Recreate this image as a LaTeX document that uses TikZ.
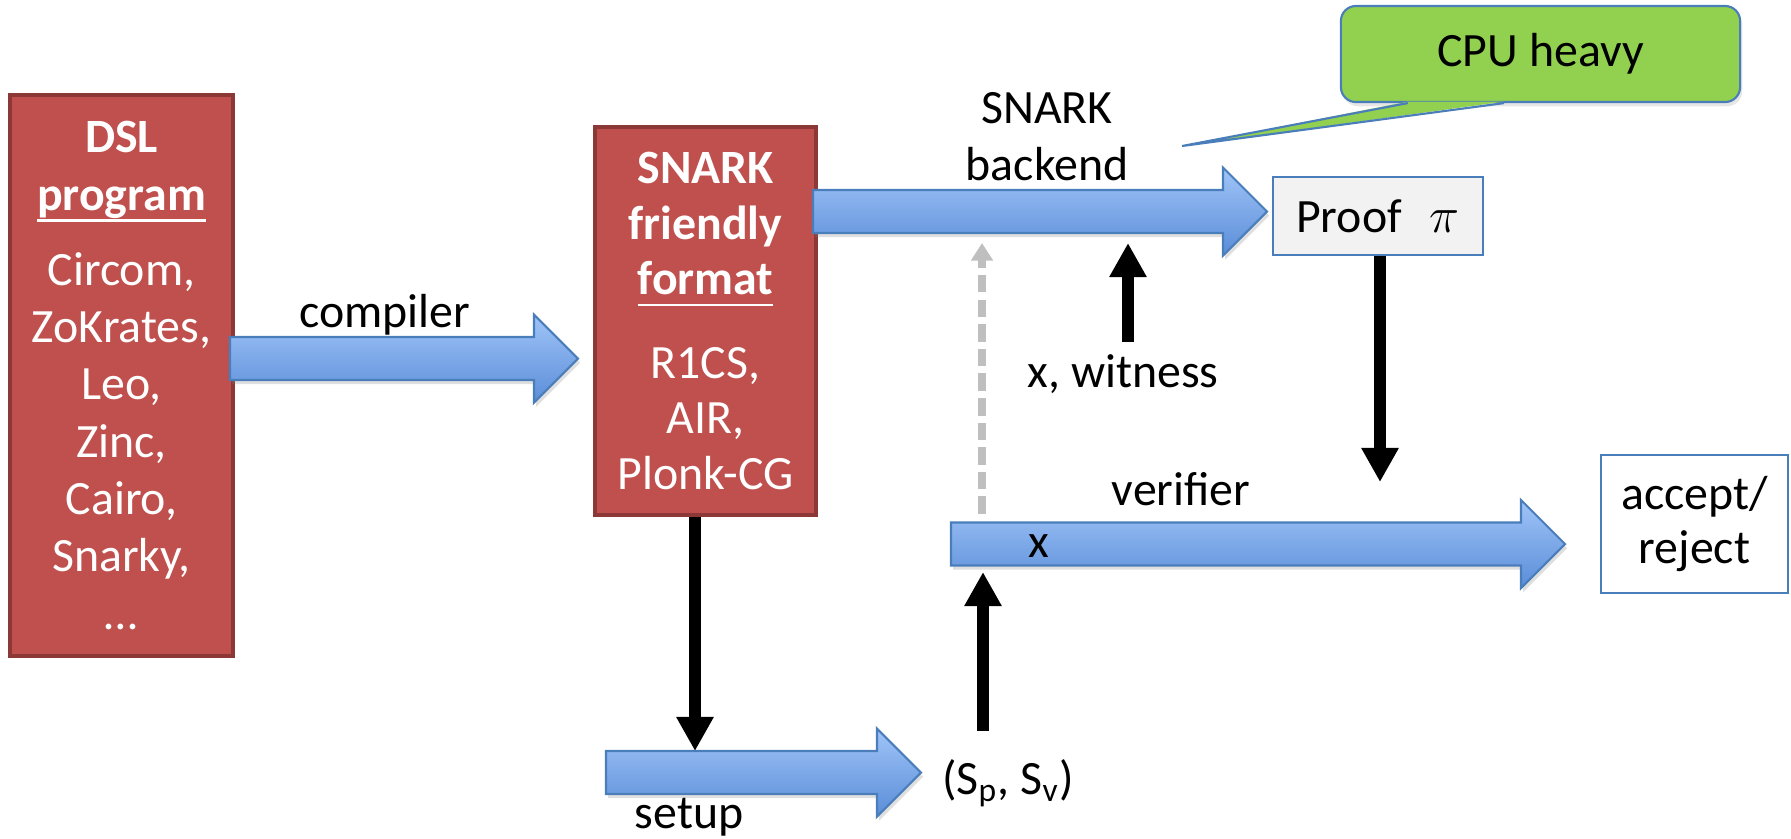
\documentclass[tikz,border=0pt]{standalone}
\usepackage{fontspec}
\setmainfont{Carlito}
\usepackage{xcolor}
\usepackage{tikz}
\usetikzlibrary{calc,arrows.meta,shadows}

\definecolor{boxred}{HTML}{C0504D}
\definecolor{boxredline}{HTML}{8C3836}
\definecolor{arrowtop}{HTML}{A0C4F8}
\definecolor{arrowbot}{HTML}{5A8DD8}
\definecolor{arrowline}{HTML}{4A7EBB}
\definecolor{calloutgreen}{HTML}{92D050}
\definecolor{proofgray}{HTML}{F2F2F2}
\definecolor{dashgray}{HTML}{BFBFBF}

% fat office-style arrow from #1 to the tip #2 (same height)
\newcommand{\blockarrow}[2]{%
  \path[blockarr] ($(#1)+(0,-21.5)$) -- ($(#2)+(-44,-21.5)$) -- ($(#2)+(-44,-44)$) -- (#2)
    -- ($(#2)+(-44,44)$) -- ($(#2)+(-44,21.5)$) -- ($(#1)+(0,21.5)$) -- cycle;}
\newcommand{\undl}[1]{\setbox0\hbox{#1}\rlap{\raisebox{-3.3pt}{\rule{\wd0}{0.7pt}}}\box0}

\begin{document}
\begin{tikzpicture}[x=0.01cm, y=-0.01cm,
    every node/.style={font=\fontsize{13.6}{15.6}\selectfont},
    redbox/.style={draw=boxredline, line width=1.2pt, fill=boxred, text=white, align=center, inner sep=0pt},
    bluebox/.style={draw=arrowline, line width=0.6pt, align=center, inner sep=0pt},
    blockarr/.style={draw=arrowline, line width=0.6pt, top color=arrowtop, bottom color=arrowbot,
        drop shadow={opacity=0.25, shadow xshift=0.6pt, shadow yshift=-1.2pt}},
    blkarrow/.style={line width=3.4pt, -{Triangle[length=9.7pt, width=10pt]}},
    dasharr/.style={draw=dashgray, line width=2.2pt, dash pattern=on 5pt off 2pt, -{Triangle[length=5pt, width=6pt]}},
  ]
\useasboundingbox (0,0) rectangle (1791,838);

% boxes
\node[redbox, minimum width=2.23cm, minimum height=5.61cm, font=\fontsize{13.6}{16.3}\selectfont] (dsl) at (121.5,375.5)
  {\textbf{DSL}\\\textbf{\undl{program}}\\[5pt]Circom,\\ZoKrates,\\Leo,\\Zinc,\\Cairo,\\Snarky,\\…};
\node[redbox, minimum width=2.21cm, minimum height=3.88cm, font=\fontsize{13.6}{15.8}\selectfont] (sff) at (705.5,321)
  {\textbf{SNARK}\\\textbf{friendly}\\\textbf{\undl{format}}\\[8pt]R1CS,\\AIR,\\Plonk-CG};
\node[bluebox, fill=proofgray, minimum width=2.10cm, minimum height=0.78cm] (proof) at (1378,216)
  {Proof\hspace{8pt}{\fontsize{15}{15}\selectfont$\pi$}};
\node[bluebox, fill=white, minimum width=1.87cm, minimum height=1.38cm] (acc) at (1694.5,524) {accept/\\reject};
\node[bluebox, fill=calloutgreen, rounded corners=0.15cm, minimum width=3.99cm, minimum height=0.96cm,
  drop shadow={opacity=0.2, shadow xshift=0.6pt, shadow yshift=-1.2pt}] (cpu) at (1540.5,54) {CPU heavy};

% callout pointer
\coordinate (cputip) at (1182,146);
\coordinate (cpua) at ($(cpu.south west)+(68,0)$);
\coordinate (cpub) at ($(cpu.south)+(-36.5,0)$);
\fill[calloutgreen] (cputip) -- ($(cpua)+(0,-1.5)$) -- ($(cpub)+(0,-1.5)$) -- cycle;
\draw[arrowline, line width=0.6pt] (cpua) -- (cputip) -- (cpub);

% big arrows
\coordinate (cp1) at (230,358.5);
\coordinate (cp2) at (578,358.5);
\coordinate (bk1) at (813,211.5);
\coordinate (bk2) at (1267,211.5);
\coordinate (vf1) at (951,544);
\coordinate (vf2) at (1565,544);
\coordinate (st1) at (606,772.5);
\coordinate (st2) at (921,772.5);
\blockarrow{cp1}{cp2}
\blockarrow{bk1}{bk2}
\blockarrow{vf1}{vf2}
\blockarrow{st1}{st2}

% labels
\node[anchor=base] (lcomp) at (385,327) {compiler};
\node[anchor=south, align=center, inner sep=0pt, font=\fontsize{13.6}{16.2}\selectfont] (lback) at (1047,182) {SNARK\\backend};
\node[anchor=base] (wit) at (1123,387) {x, witness};
\node[anchor=base] (lver) at (1181,505) {verifier};
\node[anchor=base] (lx) at (1039,557) {x};
\node[anchor=base] (lset) at (689,828) {setup};
\node[anchor=base] (sp) at (1008,794) {(S\textsubscript{p}, S\textsubscript{v})};

% thin arrows
\coordinate (stin) at (695,751);
\coordinate (witin) at (1128,243);
\coordinate (vfin) at (1380,482);
\coordinate (spout) at (983,731);
\coordinate (spin) at (983,572);
\coordinate (dsh1) at (982,514);
\coordinate (dsh2) at (982,243);
\draw[blkarrow] (sff.south -| stin) -- (stin);
\draw[blkarrow] (wit.north -| witin) -- (witin);
\draw[blkarrow] (proof.south -| vfin) -- (vfin);
\draw[blkarrow] (spout) -- (spin);
\draw[dasharr] (dsh1) -- (dsh2);
\end{tikzpicture}
\end{document}
